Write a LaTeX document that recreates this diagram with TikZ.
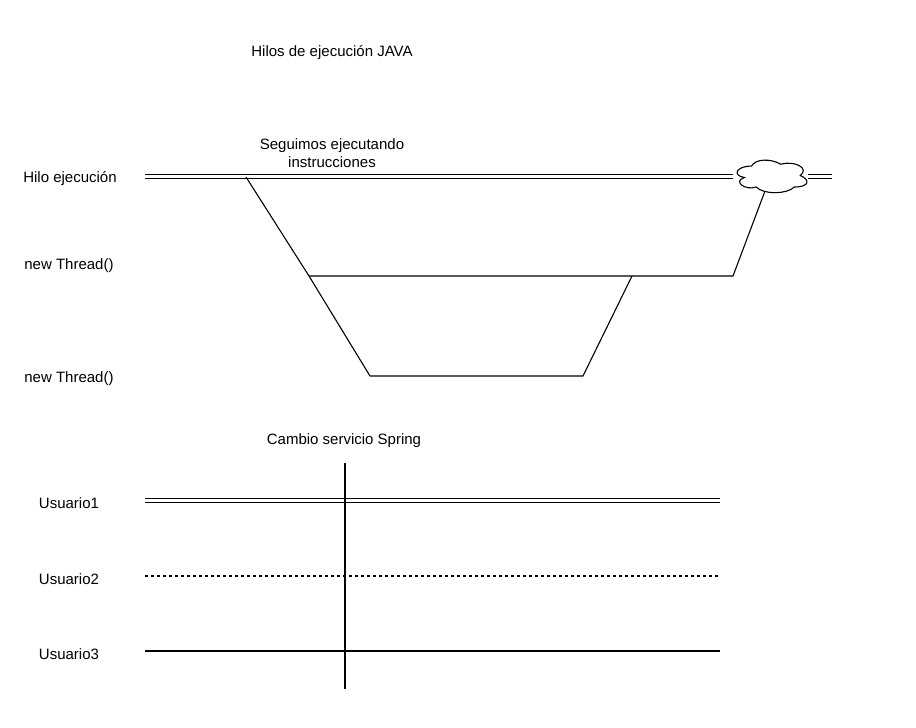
\documentclass[tikz,border=0pt]{standalone}
\usepackage{fontspec}
\setmainfont{Liberation Sans}
\begin{document}
\begin{tikzpicture}[x=1pt,y=-1pt,
  lbl/.style={font=\fontsize{15}{17.5}\selectfont, inner sep=0pt, align=center},
  dbl/.style={double, double distance=3.6pt, line width=1pt},
  ln/.style={line width=1.1pt},
  cloudbox/.style={minimum width=78pt, minimum height=38pt, inner sep=0pt, outer sep=0pt}]
\useasboundingbox (0,0) rectangle (916,728);
% titles
\node[lbl] (t1) at (332,53) {Hilos de ejecución JAVA};
\node[lbl] (t2) at (332,153) {Seguimos ejecutando\\instrucciones};
\node[lbl] (l1) at (70,179) {Hilo ejecución};
\node[lbl] (l2) at (69,266) {new Thread()};
\node[lbl] (l3) at (69,379) {new Thread()};
\node[lbl] (t3) at (344,441) {Cambio servicio Spring};
\node[lbl] (u1) at (69,503) {Usuario1};
\node[lbl] (u2) at (69,579) {Usuario2};
\node[lbl] (u3) at (69,654) {Usuario3};
% main thread
\node[cloudbox] (cl) at (771,175.6) {};
\begin{scope}[shift={(cl.north west)}, x=78pt, y=-38pt]
\draw[ln] (0.25,0.25) .. controls (0.05,0.25) and (0,0.5) .. (0.16,0.55)
  .. controls (0,0.66) and (0.18,0.9) .. (0.31,0.8)
  .. controls (0.4,1) and (0.7,1) .. (0.8,0.8)
  .. controls (1,0.8) and (1,0.6) .. (0.875,0.5)
  .. controls (1,0.3) and (0.8,0.1) .. (0.625,0.2)
  .. controls (0.5,0.05) and (0.3,0.05) .. (0.25,0.25) -- cycle;
\end{scope}
\coordinate (m0) at (145,176.5);
\coordinate (m1) at (733,176.5);
\coordinate (m2) at (808,176.5);
\coordinate (m3) at (832,176.5);
\draw[dbl] (m0) -- (m1);
\draw[dbl] (m2) -- (m3);
% first thread
\coordinate (a0) at (246,177);
\coordinate (a1) at (309,276);
\coordinate (a2) at (370,376);
\coordinate (a3) at (583,376);
\coordinate (a4) at (632,276);
\coordinate (a5) at (733,276);
\coordinate (a6) at (765,191);
\draw[ln] (a0) -- (a1) -- (a2) -- (a3) -- (a4);
\draw[ln] (a1) -- (a4) -- (a5) -- (a6);
% users
\coordinate (b0) at (145,500.5);
\coordinate (b1) at (720,500.5);
\coordinate (c0) at (145,576);
\coordinate (c1) at (720,576);
\coordinate (d0) at (145,651);
\coordinate (d1) at (720,651);
\coordinate (v0) at (345,463);
\coordinate (v1) at (345,689);
\draw[dbl] (b0) -- (b1);
\draw[ln, dash pattern=on 3pt off 3pt] (c0) -- (c1);
\draw[ln] (d0) -- (d1);
\draw[ln] (v0) -- (v1);
\end{tikzpicture}
\end{document}
